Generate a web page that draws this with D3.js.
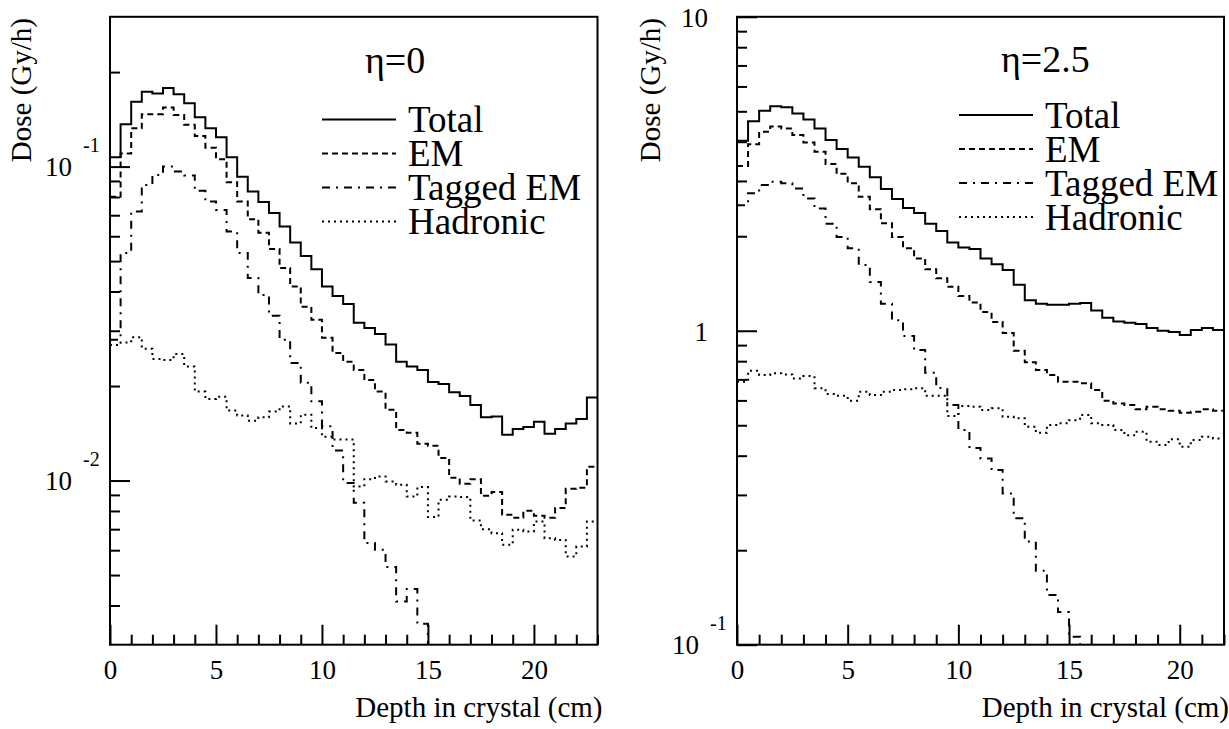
<!DOCTYPE html>
<html>
<head>
<meta charset="utf-8">
<script src="https://cdn.jsdelivr.net/npm/d3@7"></script>
<style>
  body { margin: 0; background: #fff; }
  svg { display: block; }
  svg text { font-family: "Liberation Serif", "DejaVu Serif", serif; }
</style>
</head>
<body>
<div id="chart"></div>
<script>
// histograms use 0.5 cm bins starting at depth 0
const binWidth = 0.5;
const seriesNames = ["Total", "EM", "Tagged EM", "Hadronic"];
const xTickMajor = [0, 5, 10, 15, 20];

// eta = 0 panel (Gy/h), null = below axis
const totalEta0 = [0.107, 0.1365, 0.161, 0.173, 0.171, 0.178, 0.170, 0.159, 0.1435, 0.1324,
  0.124, 0.107, 0.0929, 0.0833, 0.0772, 0.0711, 0.0644, 0.0573, 0.0519, 0.0471,
  0.0415, 0.0387, 0.0365, 0.0318, 0.0306, 0.0293, 0.0271, 0.0239, 0.0231, 0.0225,
  0.0206, 0.0203, 0.0191, 0.0186, 0.0174, 0.0159, 0.0160, 0.0140, 0.0146, 0.0148,
  0.0154, 0.0141, 0.0146, 0.0152, 0.0157, 0.0184];
const emEta0 = [0.0801, 0.110, 0.1325, 0.1469, 0.1469, 0.1542, 0.1461, 0.1358, 0.1252, 0.1149,
  0.1056, 0.0892, 0.0774, 0.0680, 0.0616, 0.0546, 0.0475, 0.0415, 0.0358, 0.0325,
  0.0285, 0.0255, 0.0239, 0.0225, 0.0209, 0.0192, 0.0168, 0.0145, 0.0142, 0.0131,
  0.0129, 0.0118, 0.0102, 0.00976, 0.0101, 0.00894, 0.00920, 0.00778, 0.00761, 0.00801,
  0.00772, 0.00761, 0.00818, 0.00941, 0.00948, 0.01106];
const taggedEta0 = [0.0281, 0.0531, 0.0719, 0.0874, 0.0941, 0.100, 0.0964, 0.0936, 0.0837, 0.0774,
  0.0728, 0.0621, 0.0531, 0.0442, 0.0390, 0.0335, 0.0281, 0.0237, 0.0205, 0.0179,
  0.0149, 0.01246, 0.00983, 0.0085, 0.00632, 0.00602, 0.00530, 0.00412, 0.00451, 0.00350,
  null, null, null, null, null, null, null, null, null, null,
  null, null, null, null, null, null];
const hadEta0 = [0.0270, 0.0275, 0.0286, 0.0263, 0.0244, 0.0242, 0.0253, 0.0231, 0.0192, 0.0182,
  0.0185, 0.0167, 0.0161, 0.0155, 0.0159, 0.0166, 0.0172, 0.0152, 0.0162, 0.0147,
  0.0138, 0.0135, 0.0135, 0.00957, 0.0101, 0.0103, 0.00993, 0.00969, 0.00889, 0.00953,
  0.00765, 0.00868, 0.00889, 0.00886, 0.00746, 0.00700, 0.00680, 0.00624, 0.00697, 0.00688,
  0.00740, 0.00655, 0.00647, 0.00573, 0.00616, 0.00740];

// eta = 2.5 panel (Gy/h)
const totalEta25 = [4.03, 4.65, 5.02, 5.19, 5.15, 4.92, 4.71, 4.41, 4.05, 3.79,
  3.56, 3.33, 3.08, 2.83, 2.63, 2.46, 2.37, 2.19, 2.08, 1.91,
  1.84, 1.82, 1.70, 1.63, 1.56, 1.40, 1.25, 1.22, 1.21, 1.21,
  1.22, 1.225, 1.16, 1.10, 1.07, 1.06, 1.05, 1.02, 1.00, 0.99,
  0.969, 1.005, 1.02, 1.005];
const emEta25 = [3.35, 3.93, 4.30, 4.47, 4.41, 4.20, 3.98, 3.72, 3.40, 3.16,
  2.95, 2.67, 2.44, 2.20, 1.99, 1.83, 1.70, 1.57, 1.47, 1.38,
  1.29, 1.23, 1.147, 1.066, 0.983, 0.864, 0.793, 0.750, 0.723, 0.688,
  0.688, 0.680, 0.647, 0.599, 0.587, 0.580, 0.562, 0.573, 0.562, 0.556,
  0.548, 0.552, 0.562, 0.556];
const taggedEta25 = [2.51, 2.74, 2.91, 2.98, 2.95, 2.84, 2.64, 2.45, 2.19, 1.99,
  1.83, 1.62, 1.43, 1.22, 1.08, 0.962, 0.868, 0.735, 0.657, 0.580,
  0.483, 0.423, 0.392, 0.360, 0.303, 0.253, 0.213, 0.172, 0.144, 0.127,
  0.106, null, null, null, null, null, null, null, null, null,
  null, null, null, null];
const hadEta25 = [0.688, 0.746, 0.723, 0.732, 0.726, 0.705, 0.717, 0.656, 0.629, 0.621,
  0.599, 0.639, 0.624, 0.639, 0.647, 0.651, 0.656, 0.621, 0.621, 0.535,
  0.576, 0.573, 0.559, 0.566, 0.532, 0.526, 0.495, 0.473, 0.501, 0.507,
  0.519, 0.539, 0.507, 0.501, 0.483, 0.465, 0.477, 0.443, 0.433, 0.451,
  0.427, 0.449, 0.460, 0.454];

const W = 1229, H = 729;
const FONT = "'Liberation Serif', 'DejaVu Serif', serif";
const svg = d3.select("#chart").append("svg")
  .attr("width", W)
  .attr("height", H);

// line styles: solid, dashed, dash-dot, dotted
const dashes = [null, "6,4", "8,6,2,6", "2,4"];

function drawPanel(p) {
  const x = d3.scaleLinear().domain(p.xDomain).range([p.left, p.right]);
  const y = d3.scaleLog().domain(p.yDomain).range([p.bottom, p.top]);
  const g = svg.append("g");

  g.append("clipPath").attr("id", p.id + "-clip")
    .append("rect")
    .attr("x", p.left).attr("y", p.top)
    .attr("width", p.right - p.left).attr("height", p.bottom - p.top);

  // histograms
  const line = d3.line()
    .x(d => x(d[0]))
    .y(d => y(d[1]))
    .curve(d3.curveStepAfter);

  const yMin = p.yDomain[0];
  p.series.forEach((vals, si) => {
    const pts = [];
    let last = -1;
    for (let i = 0; i < vals.length; i++) {
      if (vals[i] == null) break;
      pts.push([i * binWidth, vals[i]]);
      last = i;
    }
    pts.push([(last + 1) * binWidth, vals[last]]);
    if (last < vals.length - 1) pts.push([(last + 1) * binWidth, yMin]);
    g.append("path")
      .attr("clip-path", `url(#${p.id}-clip)`)
      .attr("d", line(pts))
      .attr("fill", "none")
      .attr("stroke", "#000")
      .attr("stroke-width", 2)
      .attr("stroke-dasharray", dashes[si]);
  });

  // x axis: major + minor ticks pointing inward
  const xMinor = d3.range(p.xDomain[0], Math.floor(p.xDomain[1]) + 1).filter(v => v % 5 !== 0);
  const xa = g.append("g")
    .attr("transform", `translate(0,${p.bottom})`)
    .call(d3.axisBottom(x).tickValues(xTickMajor).tickSize(-20).tickSizeOuter(0).tickPadding(15));
  xa.select(".domain").remove();
  xa.attr("font-family", FONT).attr("font-size", 27);
  xa.selectAll("text").attr("fill", "#000");
  const xm = g.append("g")
    .attr("transform", `translate(0,${p.bottom})`)
    .call(d3.axisBottom(x).tickValues(xMinor).tickSize(-10).tickSizeOuter(0).tickFormat(""));
  xm.select(".domain").remove();

  // y axis ticks
  const ya = g.append("g")
    .attr("transform", `translate(${p.left},0)`)
    .call(d3.axisLeft(y).tickValues(p.yMajor).tickSize(-20).tickSizeOuter(0).tickFormat(""));
  ya.select(".domain").remove();
  const ym = g.append("g")
    .attr("transform", `translate(${p.left},0)`)
    .call(d3.axisLeft(y).tickValues(p.yMinor).tickSize(-10).tickSizeOuter(0).tickFormat(""));
  ym.select(".domain").remove();
  g.selectAll(".tick line").attr("stroke", "#000").attr("stroke-width", 2);

  const txt = (sel) => sel.attr("font-family", FONT).attr("fill", "#000");

  // y labels (power-of-ten written as 10 with exponent)
  p.yLabels.forEach(l => {
    if (l.exp) {
      g.append("text").call(txt)
        .attr("x", p.left - 38).attr("y", y(l.v) + 9)
        .attr("text-anchor", "end").attr("font-size", 27)
        .text("10");
      g.append("text").call(txt)
        .attr("x", p.left - 27).attr("y", y(l.v) - 15)
        .attr("font-size", 20)
        .text(l.exp);
    } else {
      g.append("text").call(txt)
        .attr("x", p.left - 29).attr("y", y(l.v) + 10)
        .attr("text-anchor", "end").attr("font-size", 27)
        .text(l.text);
    }
  });

  // frame
  g.append("rect")
    .attr("x", p.left).attr("y", p.top)
    .attr("width", p.right - p.left).attr("height", p.bottom - p.top)
    .attr("fill", "none").attr("stroke", "#000").attr("stroke-width", 2);

  // axis titles
  g.append("text").call(txt)
    .attr("x", p.right + 5).attr("y", 717)
    .attr("text-anchor", "end").attr("font-size", 29)
    .text("Depth in crystal (cm)");
  g.append("text").call(txt)
    .attr("transform", `translate(${p.yTitleX},18) rotate(-90)`)
    .attr("text-anchor", "end").attr("font-size", 29)
    .text("Dose (Gy/h)");

  // panel title
  g.append("text").call(txt)
    .attr("x", p.titleX).attr("y", p.titleY)
    .attr("font-size", 38)
    .text(p.title);

  // legend
  seriesNames.forEach((name, i) => {
    const ly = p.legendY + i * 34;
    g.append("line")
      .attr("x1", p.legendX).attr("x2", p.legendX + 74)
      .attr("y1", ly).attr("y2", ly)
      .attr("stroke", "#000").attr("stroke-width", 2)
      .attr("stroke-dasharray", dashes[i]);
    g.append("text").call(txt)
      .attr("x", p.legendX + 86).attr("y", ly + 12.5)
      .attr("font-size", 37)
      .text(name);
  });
}

drawPanel({
  id: "eta0",
  left: 110, right: 597.5, top: 16.8, bottom: 644.7,
  xDomain: [0, 23], yDomain: [0.003, 0.3],
  series: [totalEta0, emEta0, taggedEta0, hadEta0],
  yMajor: [0.01, 0.1],
  yMinor: [0.004, 0.005, 0.006, 0.007, 0.008, 0.009, 0.02, 0.03, 0.04, 0.05, 0.06, 0.07, 0.08, 0.09, 0.2],
  yLabels: [{v: 0.1, exp: "-1"}, {v: 0.01, exp: "-2"}],
  yTitleX: 31,
  title: "η=0", titleX: 365, titleY: 73,
  legendX: 322, legendY: 119.5
});

drawPanel({
  id: "eta25",
  left: 737, right: 1224, top: 16.8, bottom: 644.7,
  xDomain: [0, 22], yDomain: [0.1, 10],
  series: [totalEta25, emEta25, taggedEta25, hadEta25],
  yMajor: [0.1, 1, 10],
  yMinor: [0.2, 0.3, 0.4, 0.5, 0.6, 0.7, 0.8, 0.9, 2, 3, 4, 5, 6, 7, 8, 9],
  yLabels: [{v: 10, text: "10"}, {v: 1, text: "1"}, {v: 0.1, exp: "-1"}],
  yTitleX: 660,
  title: "η=2.5", titleX: 1001, titleY: 72,
  legendX: 959, legendY: 115
});
</script>
</body>
</html>
